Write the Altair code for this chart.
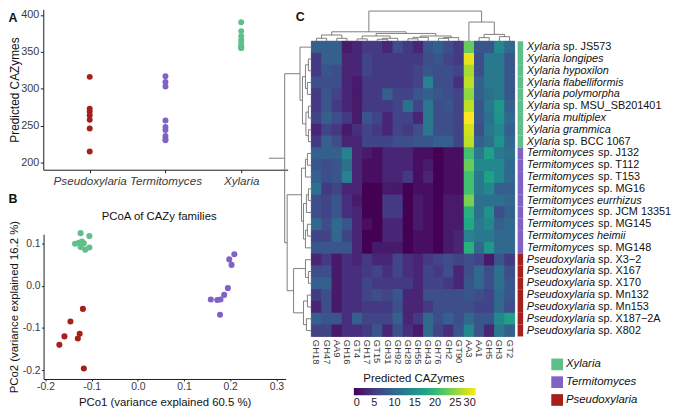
import altair as alt
import pandas as pd

# ------------------------------------------------------------------ data
genera = ["Xylaria", "Termitomyces", "Pseudoxylaria"]
genus_colors = ["#5fbf8a", "#7f62c3", "#a51f1b"]
genera_axis_order = ["Pseudoxylaria", "Termitomyces", "Xylaria"]

# Panel A: predicted CAZymes per genome
cazy_pseudoxylaria = [316, 273, 269, 264, 258, 246, 215]
cazy_termitomyces = [317, 309, 303, 257, 248, 244, 236, 232, 230]
cazy_xylaria = [390, 378, 371, 366, 362, 358, 356, 355, 355]

# Panel B: PCoA of CAZy families
pco1_xylaria = [-0.124, -0.105, -0.136, -0.128, -0.121, -0.117, -0.124, -0.114, -0.105]
pco2_xylaria = [0.124, 0.117, 0.099, 0.101, 0.104, 0.100, 0.091, 0.085, 0.090]
pco1_termitomyces = [0.209, 0.198, 0.203, 0.195, 0.187, 0.179, 0.158, 0.172, 0.178]
pco2_termitomyces = [0.074, 0.062, 0.049, -0.006, -0.022, -0.033, -0.033, -0.034, -0.069]
pco1_pseudoxylaria = [-0.119, -0.146, -0.159, -0.126, -0.130, -0.170, -0.117]
pco2_pseudoxylaria = [-0.055, -0.085, -0.120, -0.114, -0.125, -0.140, -0.196]

# Panel C: heatmap
cazy_families = ["GH18", "GH47", "AA9", "GH16", "GT4", "GH17", "GT15", "GH31", "GH92", "GH28",
                 "GH55", "GH43", "GH76", "GH2", "GT90", "AA3", "AA1", "GH5", "GH3", "GT2"]
species_genus = ["Xylaria"] * 9 + ["Termitomyces"] * 9 + ["Pseudoxylaria"] * 7
species_epithet = ["", "longipes", "hypoxilon", "flabelliformis", "polymorpha", "", "multiplex", "grammica", "",
                   "", "", "", "", "eurrhizus", "", "", "heimii", "",
                   "", "", "", "", "", "", ""]
species_strain = ["JS573", "", "", "", "", "MSU_SB201401", "", "", "BCC 1067",
                  "J132", "T112", "T153", "MG16", "", "JCM 13351", "MG145", "", "MG148",
                  "X3\u22122", "X167", "X170", "Mn132", "Mn153", "X187\u22122A", "X802"]
heat_values = [
    [9, 9, 9, 2, 3, 5, 5, 3, 7, 5, 3, 8, 9, 7, 5, 23, 8, 8, 14, 10],
    [5, 9, 9, 3, 3, 6, 5, 5, 5, 5, 5, 7, 8, 6, 5, 29, 7, 12, 12, 8],
    [5, 8, 7, 3, 3, 6, 5, 5, 5, 5, 6, 8, 7, 7, 6, 26, 7, 12, 12, 8],
    [7, 7, 7, 3, 2, 5, 5, 5, 5, 5, 6, 13, 7, 7, 4, 27, 9, 12, 12, 8],
    [5, 8, 6, 3, 2, 5, 5, 9, 6, 6, 8, 9, 8, 7, 6, 25, 9, 11, 12, 8],
    [5, 8, 5, 3, 2, 5, 5, 5, 6, 11, 6, 12, 7, 8, 6, 27, 8, 12, 16, 9],
    [6, 9, 7, 5, 2, 8, 6, 3, 6, 6, 3, 12, 7, 7, 6, 30, 8, 11, 15, 10],
    [3, 6, 5, 2, 4, 6, 5, 3, 6, 5, 7, 12, 7, 7, 6, 28, 7, 12, 14, 9],
    [5, 9, 7, 3, 3, 6, 6, 6, 7, 7, 8, 8, 9, 9, 6, 27, 9, 11, 15, 10],
    [9, 9, 9, 13, 3, 2, 1, 3, 3, 3, 1, 1, 0, 1, 1, 21, 12, 17, 12, 11],
    [8, 7, 8, 11, 3, 1, 1, 3, 3, 3, 1, 2, 0, 1, 1, 23, 14, 14, 14, 10],
    [9, 7, 8, 13, 3, 1, 1, 3, 3, 5, 1, 3, 0, 1, 1, 21, 12, 17, 14, 10],
    [11, 5, 6, 3, 3, 0, 0, 2, 2, 0, 1, 1, 0, 1, 1, 21, 12, 14, 9, 9],
    [7, 6, 8, 4, 2, 0, 0, 5, 5, 0, 2, 1, 0, 2, 2, 24, 11, 11, 11, 10],
    [7, 6, 8, 4, 3, 0, 0, 5, 5, 0, 2, 1, 0, 2, 2, 19, 11, 15, 7, 9],
    [10, 7, 10, 8, 3, 1, 0, 3, 3, 0, 2, 1, 0, 2, 2, 18, 12, 14, 9, 10],
    [6, 6, 10, 6, 3, 0, 0, 3, 3, 0, 1, 1, 0, 2, 3, 13, 12, 12, 10, 10],
    [8, 8, 8, 8, 3, 0, 2, 2, 2, 0, 1, 1, 0, 2, 3, 19, 10, 16, 10, 10],
    [3, 5, 2, 4, 3, 5, 3, 3, 6, 4, 3, 5, 6, 7, 6, 7, 6, 2, 8, 5],
    [7, 7, 2, 4, 4, 5, 6, 4, 6, 4, 3, 6, 5, 7, 3, 7, 10, 7, 11, 7],
    [9, 9, 2, 4, 4, 6, 5, 5, 5, 5, 3, 6, 6, 5, 3, 8, 10, 7, 11, 8],
    [5, 7, 2, 4, 4, 6, 7, 6, 8, 3, 3, 7, 7, 7, 7, 8, 7, 6, 10, 8],
    [3, 7, 2, 4, 4, 5, 5, 5, 7, 3, 3, 5, 7, 7, 7, 7, 6, 6, 10, 7],
    [9, 8, 8, 4, 9, 6, 6, 6, 9, 3, 5, 10, 7, 9, 7, 10, 8, 8, 14, 17],
    [6, 6, 2, 4, 4, 5, 8, 3, 7, 4, 2, 10, 6, 4, 8, 14, 8, 3, 12, 9],
]
colorbar_ticks = [0, 5, 10, 15, 20, 25, 30]

# dendrograms: (merge height, left, right); leaves are column / row indices
col_tree = (31,
            (9.7,
             (6.4, (3, 0, 1), (3, 2, 3)),
             (8.0,
              (5.4, (2.4, 4, 5), (3, (2, 6, 7), 8)),
              (5.4, (4, (2.5, 9, 10), 11), (3.7, (3, 12, 13), 14)))),
            (19.7, 15, (7.0, (3.7, 16, 17), (4.7, 18, 19))))
row_tree = (27,
            (11.5, 0, (9, (6, (3, 1, 2), (4, 3, 4)), (5.5, (3, 5, 6), (3, 7, 8)))),
            (24.5,
             (10, (6, (4, 9, 10), 11), (8, (5, (3, 12, 13), 14), (6, (4, 15, 16), 17))),
             (18, (6, 18, (3, 19, 20)), (8, (4, 21, 22), (5, 23, 24)))))
row_root_edge = 43

# ------------------------------------------------------------------ layout helpers
W, H = 677, 402


def fxL(x):
    return x - 2


def fxR(x):
    return x - 6


def fy(y):
    return (y - 3) * 0.985


FONT = "Liberation Sans"
AXIS_STYLE = dict(grid=False, domainColor="#1a1a1a", tickColor="#1a1a1a", labelColor="#3a3a3a",
                  titleColor="#111111", titleFontWeight="normal", domainWidth=1, tickWidth=1)

genus_scale = alt.Scale(domain=genera, range=genus_colors)

# ------------------------------------------------------------------ panel A
dfA = pd.DataFrame({
    "genus": ["Pseudoxylaria"] * len(cazy_pseudoxylaria) + ["Termitomyces"] * len(cazy_termitomyces)
             + ["Xylaria"] * len(cazy_xylaria),
    "value": cazy_pseudoxylaria + cazy_termitomyces + cazy_xylaria,
})
A_y0, A_y1 = 166.7, 2.0
A_px = 0.7585
A_axis_x = fxL(37.7)
A_scale_y = alt.Scale(domain=[200 + (159.3 - A_y0) / A_px, 200 + (159.3 - A_y1) / A_px],
                      range=[fy(A_y0), fy(A_y1)], nice=False, zero=False)
A_scale_x = alt.Scale(type="point", domain=genera_axis_order, range=[fxL(37.7), fxL(285)], padding=0.613)
panelA = alt.Chart(dfA).mark_circle(size=36, opacity=1).encode(
    x=alt.X("genus:N", scale=A_scale_x,
            axis=alt.Axis(title=None, orient="bottom", offset=-(H - fy(A_y0)), labelFontStyle="italic",
                          labelFontSize=11.8, tickSize=3, labelPadding=3, labelAngle=0, **AXIS_STYLE)),
    y=alt.Y("value:Q", scale=A_scale_y,
            axis=alt.Axis(title="Predicted CAZymes", orient="left", offset=-A_axis_x,
                          values=[200, 250, 300, 350, 400], labelFontSize=11, tickSize=3, labelPadding=1.5,
                          titleFontSize=12, titleX=7 - A_axis_x, titleBaseline="middle", **AXIS_STYLE)),
    color=alt.Color("genus:N", scale=genus_scale, legend=None),
)

# ------------------------------------------------------------------ panel B
dfB = pd.DataFrame({
    "genus": ["Xylaria"] * len(pco1_xylaria) + ["Termitomyces"] * len(pco1_termitomyces)
             + ["Pseudoxylaria"] * len(pco1_pseudoxylaria),
    "pco1": pco1_xylaria + pco1_termitomyces + pco1_pseudoxylaria,
    "pco2": pco2_xylaria + pco2_termitomyces + pco2_pseudoxylaria,
})
B_axis_x = fxL(38)
B_x = alt.Scale(domain=[-0.2042, 0.3202], range=[fxL(38), fxL(283)], nice=False, zero=False)
B_y = alt.Scale(domain=[-0.2207, 0.1214], range=[fy(381.7), fy(233)], nice=False, zero=False)
minus_fix = "replace(format(datum.value, '.1f'), '\u2212', '-')"
panelB = alt.Chart(dfB).mark_circle(size=38, opacity=1).encode(
    x=alt.X("pco1:Q", scale=B_x,
            axis=alt.Axis(title="PCo1 (variance explained  60.5 %)", orient="bottom", offset=-(H - fy(381.7)),
                          values=[-0.2, -0.1, 0.0, 0.1, 0.2, 0.3], labelExpr=minus_fix, labelFontSize=10.5,
                          tickSize=2, labelPadding=1, titleFontSize=11.5, titlePadding=4, **AXIS_STYLE)),
    y=alt.Y("pco2:Q", scale=B_y,
            axis=alt.Axis(title="PCo2 (variance explained 16.2 %)", orient="left", offset=-B_axis_x,
                          values=[-0.2, -0.1, 0.0, 0.1], labelExpr=minus_fix, labelFontSize=10.5,
                          tickSize=2, labelPadding=1.5, titleFontSize=11.5, titleX=7 - B_axis_x,
                          titleBaseline="middle", **AXIS_STYLE)),
    color=alt.Color("genus:N", scale=genus_scale, legend=None),
)

# ------------------------------------------------------------------ panel C heatmap
n_cols, n_rows = len(cazy_families), len(species_genus)
HX = alt.Scale(domain=[0, n_cols], range=[fxR(313), fxR(518.7)], nice=False, zero=False)
HY = alt.Scale(domain=[0, n_rows], range=[fy(34.7), fy(338)], nice=False, zero=False)

heat_rows = []
for r, row in enumerate(heat_values):
    for c, v in enumerate(row):
        heat_rows.append({"c0": c, "c1": c + 1, "r0": r, "r1": r + 1, "value": v,
                          "family": cazy_families[c]})
dfH = pd.DataFrame(heat_rows)

# underlay: same cells with a thin stroke of their own colour, hides anti-aliasing seams
heat_under = alt.Chart(dfH).mark_rect(strokeWidth=0.8).encode(
    x=alt.X("c0:Q", scale=HX, axis=None),
    x2="c1:Q",
    y=alt.Y("r0:Q", scale=HY, axis=None),
    y2="r1:Q",
    color=alt.Color("value:Q", scale=alt.Scale(scheme="viridis", domain=[0, 30]), legend=None),
    stroke=alt.Stroke("value:Q", scale=alt.Scale(scheme="viridis", domain=[0, 30]), legend=None),
)
heatmap = alt.Chart(dfH).mark_rect(strokeWidth=0).encode(
    x=alt.X("c0:Q", scale=HX, axis=None),
    x2="c1:Q",
    y=alt.Y("r0:Q", scale=HY, axis=None),
    y2="r1:Q",
    color=alt.Color("value:Q", scale=alt.Scale(scheme="viridis", domain=[0, 30]),
                    legend=alt.Legend(title=None, orient="none", direction="horizontal",
                                      legendX=fxR(356), legendY=fy(391),
                                      gradientLength=fxR(479.3) - fxR(356), gradientThickness=7.2,
                                      values=colorbar_ticks, labelFontSize=11, labelOffset=2,
                                      labelColor="#222222", gradientStrokeWidth=0, labelOverlap=False,
                                      padding=0)),
)

dfColLab = pd.DataFrame({"cm": [i + 0.5 for i in range(n_cols)], "family": cazy_families})
col_labels = alt.Chart(dfColLab).mark_text(angle=90, align="left", baseline="middle", fontSize=9.5,
                                           color="#3a3a3a").encode(
    x=alt.X("cm:Q", scale=HX, axis=None), y=alt.value(fy(341.5)), text="family:N")

# annotation bar
dfAnn = pd.DataFrame({"r0": list(range(n_rows)), "r1": [r + 1 for r in range(n_rows)], "genus": species_genus})
ann_bar = alt.Chart(dfAnn).mark_rect(strokeWidth=0).encode(
    x=alt.value(fxR(521.7)), x2=alt.value(fxR(527.3)),
    y=alt.Y("r0:Q", scale=HY, axis=None), y2="r1:Q",
    color=alt.Color("genus:N", scale=genus_scale,
                    legend=alt.Legend(title=None, orient="none", legendX=fxR(555.7), legendY=fy(366.7) - 6,
                                      symbolType="square", symbolSize=140, symbolStrokeWidth=0,
                                      symbolOpacity=1, labelFontSize=11.5, labelFontStyle="italic",
                                      labelOffset=3, rowPadding=6, padding=0, labelColor="#111111")),
)

# row labels (italic genus / species, upright strain part)
ARIAL = {"X": 667, "y": 500, "l": 222, "a": 556, "r": 333, "i": 222, "T": 611, "e": 556, "m": 833,
         "t": 278, "o": 556, "c": 500, "s": 500, "P": 667, "u": 556, "d": 556, "x": 500, " ": 278}
LABEL_SIZE = 11
LABEL_X = fxR(531)


def text_width(s, size):
    return sum(ARIAL.get(ch, 556) for ch in s) * size / 1000.0


italic_txt = [g + (" " + e if e else "") for g, e in zip(species_genus, species_epithet)]
upright_txt = [("sp. " + s if s else "") for s in species_strain]
dfRowLab = pd.DataFrame({"rm": [r + 0.5 for r in range(n_rows)], "it": italic_txt, "up": upright_txt,
                         "genus": species_genus})
row_italic = alt.Chart(dfRowLab).mark_text(align="left", baseline="middle", fontSize=LABEL_SIZE,
                                           fontStyle="italic", color="#111111").encode(
    x=alt.value(LABEL_X), y=alt.Y("rm:Q", scale=HY, axis=None), text="it:N")
row_upright = []
for g in genera:
    dx = text_width(g + " ", LABEL_SIZE)
    row_upright.append(
        alt.Chart(dfRowLab).transform_filter(alt.datum.genus == g).transform_filter(alt.datum.up != "")
        .mark_text(align="left", baseline="middle", fontSize=LABEL_SIZE, color="#111111").encode(
            x=alt.value(LABEL_X + dx), y=alt.Y("rm:Q", scale=HY, axis=None), text="up:N"))


# dendrograms
def tree_segments(tree):
    segs = []

    def walk(node):
        if isinstance(node, int):
            return node + 0.5, 0.0
        h, left, right = node
        pl, hl = walk(left)
        pr, hr = walk(right)
        segs.append((pl, hl, pl, h))
        segs.append((pr, hr, pr, h))
        segs.append((pl, h, pr, h))
        return (pl + pr) / 2.0, h

    pos, h = walk(tree)
    return segs, pos, h


col_segs, _, col_root_h = tree_segments(col_tree)
dfColTree = pd.DataFrame(col_segs, columns=["p0", "h0", "p1", "h1"])
col_h_scale = alt.Scale(domain=[0, col_root_h], range=[fy(34.7), fy(34.7 - col_root_h)], nice=False, zero=False)
col_dendro = alt.Chart(dfColTree).mark_rule(color="#707070", strokeWidth=0.9).encode(
    x=alt.X("p0:Q", scale=HX, axis=None), x2="p1:Q",
    y=alt.Y("h0:Q", scale=col_h_scale, axis=None), y2="h1:Q")

row_segs, row_root_pos, row_root_h = tree_segments(row_tree)
row_segs.append((row_root_pos, row_root_h, row_root_pos, row_root_edge))
dfRowTree = pd.DataFrame(row_segs, columns=["p0", "h0", "p1", "h1"])
row_h_scale = alt.Scale(domain=[0, row_root_edge], range=[fxR(313), fxR(313 - row_root_edge)],
                        nice=False, zero=False)
row_dendro = alt.Chart(dfRowTree).mark_rule(color="#707070", strokeWidth=0.9).encode(
    y=alt.Y("p0:Q", scale=HY, axis=None), y2="p1:Q",
    x=alt.X("h0:Q", scale=row_h_scale, axis=None), x2="h1:Q")


# ------------------------------------------------------------------ annotations
def label(txt, x, y, size, weight="normal", align="center", color="#111111"):
    return alt.Chart(pd.DataFrame({"t": [txt]})).mark_text(
        fontSize=size, fontWeight=weight, align=align, baseline="middle", color=color).encode(
        text="t:N", x=alt.value(x), y=alt.value(y))


texts = [
    label("A", fxL(7), fy(10.5), 12.5, "bold"),
    label("B", fxL(7), fy(197), 12.5, "bold"),
    label("C", fxR(301.7), fy(9.5), 12.5, "bold"),
    label("PCoA of CAZy families", fxL(155), fy(215), 11.5),
    label("Predicted CAZymes", fxR(416.7), fy(381.7), 11.5),
]

chart = alt.layer(
    panelA, panelB, heat_under, heatmap, col_labels, ann_bar, row_italic, *row_upright,
    col_dendro, row_dendro, *texts
).resolve_scale(
    x="independent", y="independent", color="independent", stroke="independent"
).properties(
    width=W, height=H, padding=0, autosize=alt.AutoSizeParams(type="none")
).configure(font=FONT).configure_view(stroke=None)

chart.save("out.html", embed_options={"renderer": "svg", "actions": False})
